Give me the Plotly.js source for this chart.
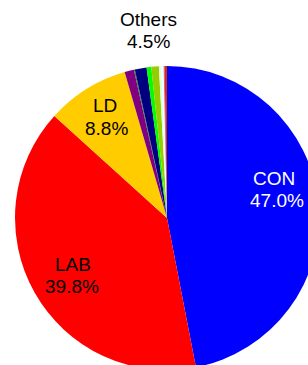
<!DOCTYPE html>
<html>
<head>
<meta charset="utf-8">
<script src="https://cdn.plot.ly/plotly-3.0.1.min.js"></script>
<style>
html, body { margin: 0; padding: 0; overflow: hidden; background: #fff; width: 308px; height: 365px; }
#chart { width: 330px; height: 385px; }
</style>
</head>
<body>
<div id="chart"></div>
<script>
// Data
const parties = ["CON", "LAB", "LD", "Oth1", "Oth2", "Oth3", "Oth4", "Oth5", "Oth6", "Oth7", "Oth8", "Oth9"];
const shares  = [47.0, 39.8, 8.8, 1.0, 0.1, 1.25, 0.5, 0.8, 0.25, 0.25, 0.1, 0.25];
const colours = ["#0000FF", "#FF0000", "#FFCC00", "#800080", "#2E7D32", "#000080", "#00FF00", "#99CC00", "#DDFFDD", "#E8FFFF", "#FF3399", "#CC3300"];
const mainLabels = ["CON", "LAB", "LD"];
const othersLabel = "Others";

// Label layout (pixel centres of the two text lines) and colours
const labelPos = {
  CON: [[274, 178], [277, 200]],
  LAB: [[72.5, 264], [72, 286]],
  LD: [[104.5, 106], [106.5, 128]],
  Others: [[148, 20], [148, 42]]
};
const labelColour = { CON: "#FFFFFF", LAB: "#000000", LD: "#000000", Others: "#000000" };

const W = 330, H = 385, ML = 15, MR = 11, MT = 66, MB = 15;
const PW = W - ML - MR, PH = H - MT - MB;
function px2paper(p) { return [(p[0] - ML) / PW, (H - MB - p[1]) / PH]; }

const total = shares.reduce((a, b) => a + b, 0);
const pct = {};
mainLabels.forEach(l => { pct[l] = shares[parties.indexOf(l)] / total * 100; });
pct[othersLabel] = shares.filter((v, i) => !mainLabels.includes(parties[i])).reduce((a, b) => a + b, 0) / total * 100;

const annotations = [];
Object.keys(labelPos).forEach(name => {
  const lines = [name, pct[name].toFixed(1) + "%"];
  lines.forEach((t, k) => {
    const pp = px2paper(labelPos[name][k]);
    annotations.push({
      text: t, x: pp[0], y: pp[1], xref: "paper", yref: "paper",
      xanchor: "center", yanchor: "middle", showarrow: false,
      font: { family: "Liberation Sans, Arial, sans-serif", size: 19, color: labelColour[name] }
    });
  });
});

const trace = {
  type: "pie",
  labels: parties,
  values: shares,
  sort: false,
  direction: "clockwise",
  rotation: 0,
  textinfo: "none",
  hoverinfo: "none",
  marker: { colors: colours, line: { width: 0 } },
  showlegend: false
};

Plotly.newPlot("chart", [trace], {
  width: W, height: H,
  margin: { l: ML, r: MR, t: MT, b: MB, pad: 0 },
  paper_bgcolor: "#FFFFFF",
  showlegend: false,
  annotations: annotations
}, { staticPlot: true, displayModeBar: false });
</script>
</body>
</html>
